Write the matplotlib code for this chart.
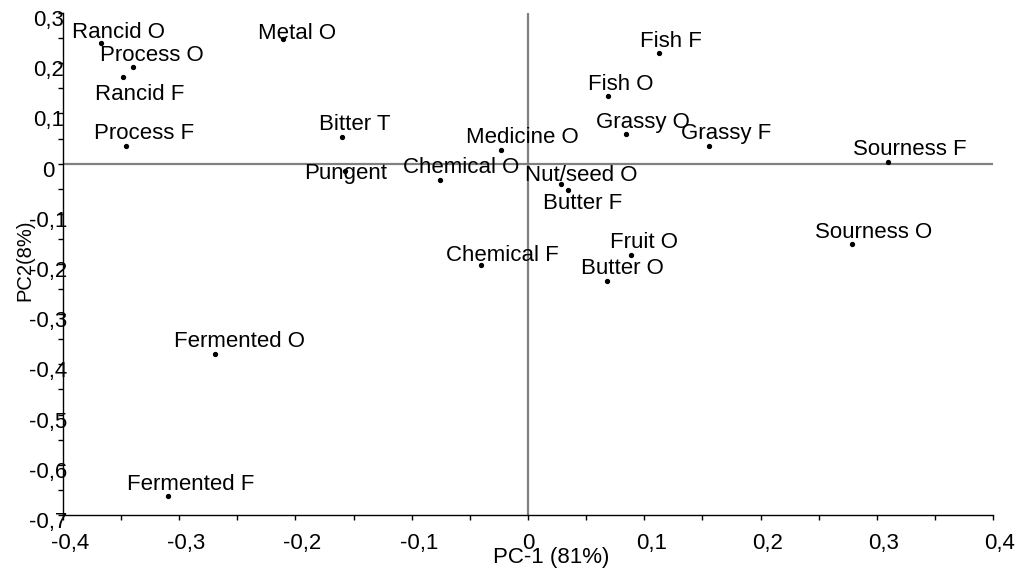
import matplotlib
matplotlib.use("Agg")
import matplotlib.pyplot as plt
from matplotlib.ticker import MultipleLocator, FuncFormatter
from matplotlib.transforms import ScaledTranslation

# Loadings of the sensory attributes on the first two principal components
attributes = [
    "Rancid O", "Process O", "Rancid F", "Process F", "Metal O", "Bitter T",
    "Pungent", "Chemical O", "Medicine O", "Fish F", "Fish O", "Grassy O",
    "Grassy F", "Sourness F", "Nut/seed O", "Butter F", "Chemical F",
    "Fruit O", "Butter O", "Sourness O", "Fermented O", "Fermented F",
]
pc1 = [
    -0.367, -0.340, -0.348, -0.346, -0.211, -0.160,
    -0.157, -0.076, -0.023, 0.113, 0.069, 0.084,
    0.156, 0.310, 0.028, 0.034, -0.040,
    0.089, 0.068, 0.279, -0.269, -0.310,
]
pc2 = [
    0.240, 0.192, 0.173, 0.036, 0.249, 0.054,
    -0.014, -0.032, 0.028, 0.220, 0.134, 0.058,
    0.036, 0.004, -0.040, -0.052, -0.202,
    -0.182, -0.233, -0.161, -0.379, -0.663,
]

X_LABEL = "PC-1 (81%)"
Y_LABEL = "PC2(8%)"

# label placement (pixels): baseline lift above the dot, and where along
# the text width the dot sits
DEFAULT_LIFT = 6.5
LIFT = {"Rancid O": 5, "Rancid F": -23, "Butter F": -19, "Pungent": -8,
        "Metal O": 0, "Chemical F": 4, "Nut/seed O": 3}
ANCHOR = {"Pungent": 0.5}
DEFAULT_ANCHOR = 0.315

FS = 16

plt.rcParams["font.family"] = ["Liberation Sans", "DejaVu Sans"]
plt.rcParams["axes.unicode_minus"] = False


def comma_fmt(v, pos):
    if abs(v) < 1e-9:
        return "0"
    return f"{v:.1f}".replace(".", ",")


fig = plt.figure(figsize=(10.19, 5.71), dpi=100)
ax = fig.add_axes([0.0618, 0.0981, 0.9127, 0.8791])

ax.set_xlim(-0.4, 0.4)
ax.set_ylim(-0.7, 0.3)

for side in ("top", "right"):
    ax.spines[side].set_visible(False)
for side in ("left", "bottom"):
    ax.spines[side].set_linewidth(1.0)
    ax.spines[side].set_color("black")

ax.axhline(0, color="#808080", lw=1.6, zorder=1)
ax.axvline(0, color="#808080", lw=1.6, zorder=1)

ax.plot(pc1, pc2, "o", ms=2.8, color="black", ls="none", zorder=3)

anns = []
for name, x, y in zip(attributes, pc1, pc2):
    a = ax.annotate(name, (x, y), xytext=(0, LIFT.get(name, DEFAULT_LIFT)),
                    textcoords="offset pixels", ha="left", va="baseline",
                    fontsize=FS, color="black", zorder=4)
    anns.append(a)

ax.xaxis.set_major_locator(MultipleLocator(0.1))
ax.xaxis.set_minor_locator(MultipleLocator(0.05))
ax.yaxis.set_major_locator(MultipleLocator(0.1))
ax.yaxis.set_minor_locator(MultipleLocator(0.05))
ax.xaxis.set_major_formatter(FuncFormatter(comma_fmt))
ax.yaxis.set_major_formatter(FuncFormatter(comma_fmt))
ax.tick_params(which="both", direction="out", length=3.5, width=1, color="black")
ax.tick_params(axis="x", labelsize=FS, pad=9.2)
ax.tick_params(axis="y", labelsize=FS, pad=7.0)

ax.set_xlabel(X_LABEL, fontsize=FS)
ax.xaxis.set_label_coords(0.525, -0.064)
ax.set_ylabel(Y_LABEL, fontsize=14.5)
ax.yaxis.set_label_coords(-0.031, 0.508)

fig.canvas.draw()

# shift each label so the dot lands about a third of the way along it
for a in anns:
    w = a.get_window_extent().width
    frac = ANCHOR.get(a.get_text(), DEFAULT_ANCHOR)
    a.xyann = (-frac * w, a.xyann[1])

down = ScaledTranslation(0, -0.05, fig.dpi_scale_trans)
for lbl in ax.get_yticklabels():
    lbl.set_ha("center")
    lbl.set_transform(lbl.get_transform() + down)
right = ScaledTranslation(0.07, 0, fig.dpi_scale_trans)
for lbl in ax.get_xticklabels():
    if lbl.get_text() != "0":
        lbl.set_transform(lbl.get_transform() + right)

fig.savefig("out.png", dpi=100)
